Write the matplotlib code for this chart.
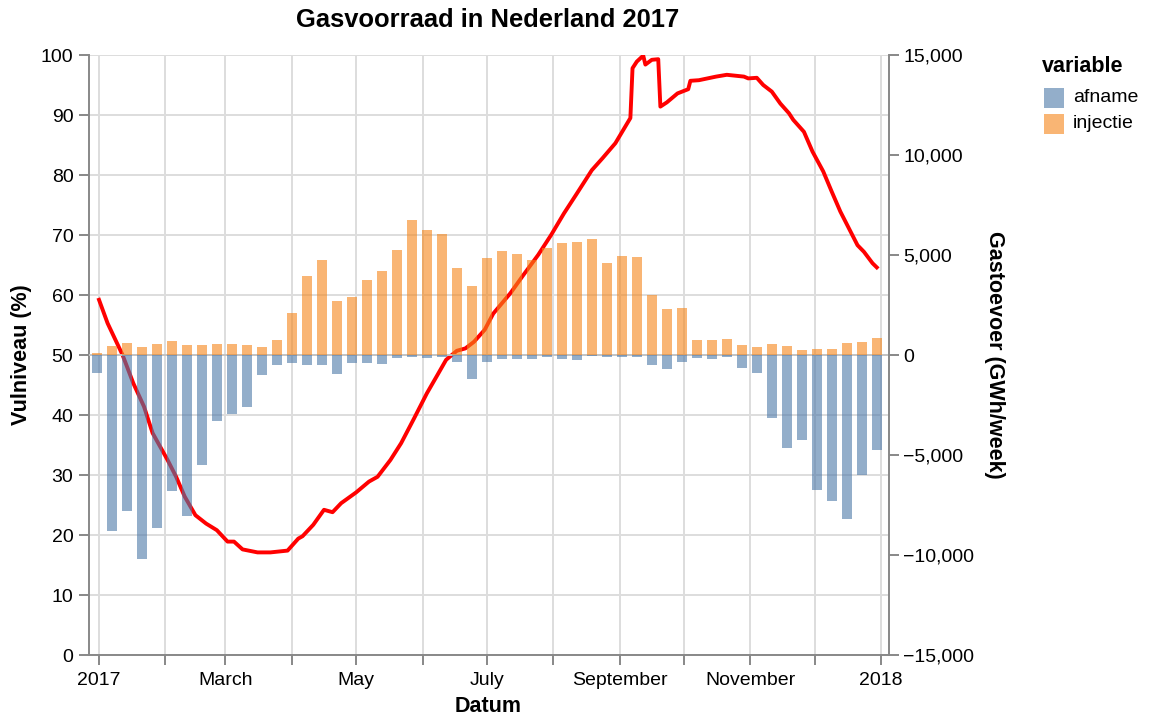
import numpy as np
import pandas as pd
import matplotlib
matplotlib.use("Agg")
import matplotlib.pyplot as plt
import matplotlib.dates as mdates
from matplotlib.patches import Rectangle

plt.rcParams['font.family'] = ['Liberation Sans', 'DejaVu Sans']

# weekly gas flows (GWh/week), weeks starting 2016-12-31
afname = [-900, -8800, -7800, -10200, -8630, -6800, -8050, -5500, -3300, -2970,
          -2600, -980, -500, -420, -520, -480, -970, -400, -380, -470,
          -170, -80, -130, -120, -370, -1220, -330, -220, -220, -180,
          -120, -180, -250, -50, -120, -120, -80, -520, -720, -370,
          -170, -220, -120, -670, -880, -3170, -4630, -4230, -6730, -7280,
          -8220, -6000, -4770]
injectie = [100, 450, 600, 400, 550, 720, 520, 520, 570, 530,
            500, 400, 770, 2120, 3930, 4730, 2720, 2920, 3730, 4220,
            5230, 6770, 6270, 6070, 4350, 3470, 4870, 5180, 5050, 4750,
            5330, 5580, 5650, 5800, 4580, 4930, 4880, 3020, 2300, 2350,
            770, 730, 780, 500, 420, 550, 430, 270, 280, 320,
            620, 650, 850]
week_dates = pd.date_range("2016-12-31", periods=len(afname), freq="7D")

# fill level (%), day number counted from 2017-01-01
level_day = [0, 4, 11, 16, 21, 25, 32, 36, 40, 45, 50, 55, 60, 63, 67, 74, 80, 88, 89, 93,
             95, 100, 105, 109, 113, 120, 126, 130, 136, 141, 147, 153, 158, 162, 167, 171,
             175, 180, 184, 192, 198, 205, 211, 217, 223, 230, 235, 241, 248, 249, 251, 254,
             255, 258, 261, 262, 265, 270, 275, 276, 280, 288, 293, 301, 303, 307, 310, 314,
             318, 322, 324, 329, 333, 338, 342, 346, 350, 354, 357, 361, 363]
level_pct = [59.2, 55.3, 50.0, 45.3, 41.4, 37.0, 32.5, 29.7, 26.4, 23.3, 21.9, 20.8, 18.9, 18.9,
             17.6, 17.1, 17.1, 17.4, 17.8, 19.4, 19.8, 21.7, 24.2, 23.8, 25.3, 27.1, 28.9, 29.7,
             32.5, 35.3, 39.4, 43.6, 46.7, 49.2, 50.7, 51.1, 52.2, 54.2, 56.9, 60.3, 63.3, 66.7,
             70.0, 73.6, 76.9, 80.8, 82.8, 85.3, 89.5, 97.8, 98.9, 99.9, 98.4, 99.2, 99.3, 91.4,
             92.1, 93.6, 94.3, 95.7, 95.8, 96.4, 96.7, 96.4, 96.1, 96.2, 95.0, 93.9, 91.9, 90.3,
             89.2, 87.2, 83.9, 80.6, 77.2, 73.9, 71.1, 68.3, 67.2, 65.3, 64.6]
level_dates = pd.Timestamp("2017-01-01") + pd.to_timedelta(level_day, unit="D")

month_ticks = pd.date_range("2017-01-01", "2018-01-01", freq="MS")
month_labels = ["2017", "", "March", "", "May", "", "July", "", "September", "",
                "November", "", "2018"]
left_ticks = list(range(0, 101, 10))
right_ticks = [-15000, -10000, -5000, 0, 5000, 10000, 15000]
series_names = ["afname", "injectie"]
series_colors = ["#4c78a8", "#f58518"]

GRAY = "#888888"
W, H = 1152, 728
fig = plt.figure(figsize=(W / 100, H / 100), dpi=100)
ax = fig.add_axes([89 / W, 1 - 655 / H, 800 / W, 600 / H])
ax2 = ax.twinx()

ax.grid(True, color="#dddddd", lw=1.4)
ax.set_axisbelow(True)
ax.plot(level_dates, level_pct, color="#ff0000", lw=2.8, zorder=2, solid_joinstyle="round")

ax2.axhline(0, color="#c4c4c4", lw=1.4, zorder=1)
ax2.bar(week_dates, afname, width=4.55, color=series_colors[0], alpha=0.6, zorder=2)
ax2.bar(week_dates, injectie, width=4.55, color=series_colors[1], alpha=0.6, zorder=2)

x0 = mdates.date2num(pd.Timestamp("2017-01-01"))
ax.set_xlim(x0 - 4.67, x0 + 368.7)
ax.set_ylim(0, 100)
ax2.set_ylim(-15000, 15000)

ax.set_xticks(month_ticks)
ax.set_xticklabels(month_labels)
ax.set_yticks(left_ticks)
ax2.set_yticks(right_ticks)
ax2.set_yticklabels([f"{v:,}".replace("-", "\u2212") for v in right_ticks])

for a in (ax, ax2):
    a.tick_params(length=7.2, width=1.4, color=GRAY, labelsize=14, labelcolor="black")
    for s in a.spines.values():
        s.set_color(GRAY)
        s.set_linewidth(1.4)
    a.spines["top"].set_visible(False)
ax.tick_params(axis="y", pad=4)
ax.tick_params(axis="x", pad=5)
ax2.tick_params(axis="y", pad=3)
ax.spines["right"].set_visible(False)
ax2.spines["left"].set_visible(False)
ax2.spines["bottom"].set_visible(False)

fig.text(488 / W, 1 - 20 / H, "Gasvoorraad in Nederland 2017", ha="center", va="center",
         fontsize=18.4, fontweight="bold")
fig.text(488 / W, 1 - 707 / H, "Datum", ha="center", va="center", fontsize=15.5,
         fontweight="bold")
fig.text(22 / W, 1 - 355 / H, "Vulniveau (%)", ha="center", va="center", rotation=90,
         fontsize=15.5, fontweight="bold")
fig.text(995 / W, 1 - 355 / H, "Gastoevoer (GWh/week)", ha="center", va="center",
         rotation=-90, fontsize=15.5, fontweight="bold")

# legend, drawn by hand to match the spacing
fig.text(1042 / W, 1 - 66 / H, "variable", ha="left", va="center", fontsize=15.5,
         fontweight="bold")
for i, (name, col) in enumerate(zip(series_names, series_colors)):
    yc = 98 + 26 * i
    fig.patches.append(Rectangle((1044 / W, 1 - (yc + 10) / H), 20 / W, 20 / H,
                                 transform=fig.transFigure, facecolor=col, alpha=0.6,
                                 edgecolor="none"))
    fig.text(1073 / W, 1 - yc / H, name, ha="left", va="center", fontsize=14)

fig.savefig("out.png", dpi=100)
